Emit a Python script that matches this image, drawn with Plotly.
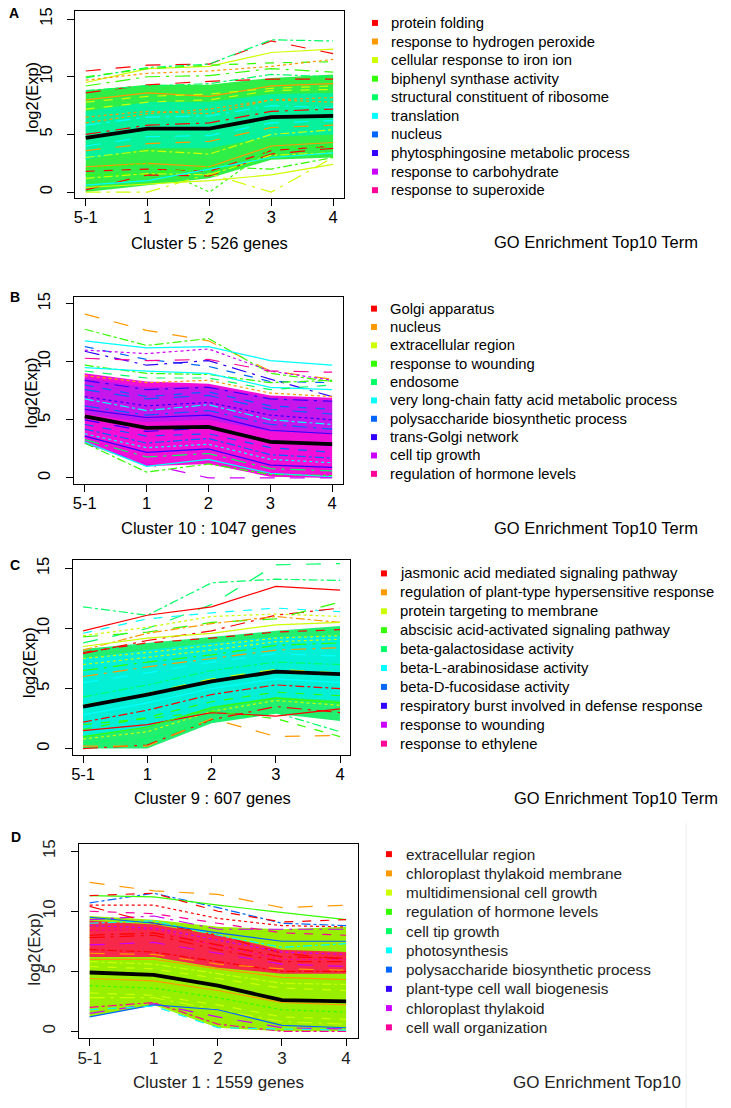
import plotly.graph_objects as go

# shared x categories and the GO term palette (R rainbow(10))
x_labels = ["5-1", "1", "2", "3", "4"]
y_ticks = [0, 5, 10, 15]
rainbow10 = ["#FF0000", "#FF9900", "#CCFF00", "#33FF00", "#00FF66",
             "#00FFFF", "#0066FF", "#3300FF", "#CC00FF", "#FF0099"]

# ---------------- panel A : cluster 5 ----------------
a_terms = ["protein folding", "response to hydrogen peroxide",
           "cellular response to iron ion", "biphenyl synthase activity",
           "structural constituent of ribosome", "translation", "nucleus",
           "phytosphingosine metabolic process", "response to carbohydrate",
           "response to superoxide"]
a_cluster = "Cluster 5 : 526 genes"
a_mean = [4.7, 5.5, 5.5, 6.5, 6.6]
a_band_lo = [0.0, 0.6, 1.2, 2.8, 3.0]
a_band_hi = [8.8, 9.3, 9.3, 9.9, 10.2]
a_core_lo = [2.8, 3.8, 3.8, 4.8, 5.0]
a_core_hi = [7.0, 7.8, 7.8, 8.5, 8.6]
a_genes = [
    [10.5, 11.0, 11.1, 13.1, 12.0], [9.9, 10.8, 11.1, 13.2, 13.1],
    [9.5, 10.7, 10.9, 12.1, 12.4], [10.0, 10.7, 11.0, 11.2, 11.3],
    [9.7, 10.3, 10.5, 10.9, 11.5], [9.2, 10.0, 10.1, 10.7, 10.4],
    [8.6, 9.3, 9.6, 9.8, 9.8], [8.8, 9.2, 9.4, 10.2, 10.0],
    [8.0, 8.6, 8.3, 9.2, 9.4], [7.2, 7.8, 8.0, 8.8, 8.9],
    [6.5, 7.0, 6.8, 8.0, 8.2], [5.8, 6.5, 6.6, 7.5, 7.3],
    [4.0, 4.8, 4.9, 6.0, 6.2], [3.0, 3.6, 3.3, 5.0, 5.4],
    [2.2, 2.5, 2.2, 4.0, 4.3], [1.8, 2.0, 1.8, 3.6, 4.0],
    [2.0, 2.5, 0.0, 3.8, 4.0], [0.0, 0.0, 1.6, 0.0, 3.0],
    [0.2, 1.5, 1.4, 3.3, 3.8], [1.5, 1.6, 2.2, 2.0, 3.0],
    [0.4, 0.7, 1.0, 1.5, 2.4], [7.8, 8.3, 8.5, 9.0, 9.2],
    [6.0, 6.8, 7.2, 8.0, 7.8], [5.0, 5.8, 6.0, 7.0, 7.2],
    [3.6, 4.2, 4.4, 5.6, 5.8], [1.2, 1.6, 1.5, 3.2, 3.4],
    [0.6, 1.0, 2.0, 3.0, 3.4],
]
a_gene_term = [0, 4, 2, 3, 1, 3, 0, 4, 1, 2, 1, 5, 5, 2, 1, 0, 3, 2, 0, 3, 2,
               2, 1, 0, 1, 2, 5]

# ---------------- panel B : cluster 10 ----------------
b_terms = ["Golgi apparatus", "nucleus", "extracellular region",
           "response to wounding", "endosome",
           "very long-chain fatty acid metabolic process",
           "polysaccharide biosynthetic process", "trans-Golgi network",
           "cell tip growth", "regulation of hormone levels"]
b_cluster = "Cluster 10 : 1047 genes"
b_mean = [5.3, 4.3, 4.4, 3.1, 2.9]
b_band_lo = [3.0, 1.0, 1.2, 0.1, 0.0]
b_band_hi = [9.0, 8.3, 8.1, 7.1, 6.9]
b_core_lo = [5.5, 4.8, 5.0, 4.0, 3.8]
b_core_hi = [8.6, 7.8, 7.9, 6.9, 6.7]
b_genes = [
    [14.1, 12.7, 11.8, 9.2, 8.5], [12.8, 11.4, 12.0, 9.0, 8.3],
    [11.8, 11.2, 11.3, 10.1, 9.7], [11.3, 10.2, 9.6, 8.3, 8.2],
    [11.0, 10.7, 11.1, 9.2, 8.4], [10.9, 9.7, 10.1, 8.5, 7.0],
    [10.3, 10.1, 10.2, 9.2, 9.1], [9.7, 9.0, 8.9, 8.2, 8.4],
    [9.5, 9.2, 9.0, 7.8, 7.6], [9.2, 8.6, 8.6, 7.6, 8.0],
    [8.8, 8.2, 8.4, 7.3, 7.0], [8.4, 7.6, 7.8, 6.8, 6.6],
    [7.6, 6.8, 7.1, 5.9, 5.5], [6.8, 5.8, 6.3, 5.0, 4.6],
    [5.9, 5.2, 5.4, 4.1, 3.8], [4.6, 3.6, 3.8, 2.6, 2.2],
    [3.8, 2.6, 2.9, 1.6, 1.3], [3.3, 1.8, 2.1, 0.8, 0.6],
    [3.0, 1.2, 0.0, 0.0, 0.0], [3.0, 0.5, 1.2, 0.3, 0.2],
    [3.1, 1.0, 1.6, 0.4, 0.1], [8.0, 7.0, 7.4, 6.2, 5.9],
    [7.0, 6.2, 6.5, 5.4, 5.0], [6.2, 5.4, 5.8, 4.6, 4.2],
    [5.0, 4.0, 4.3, 3.2, 2.8], [4.2, 3.0, 3.4, 2.0, 1.7],
    [3.6, 2.2, 2.5, 1.1, 0.9],
]
b_gene_term = [1, 3, 5, 6, 8, 7, 9, 3, 5, 4, 1, 7, 6, 5, 7, 6, 5, 4, 8, 3, 5,
               6, 7, 6, 7, 6, 7]

# ---------------- panel C : cluster 9 ----------------
c_terms = ["jasmonic acid mediated signaling pathway",
           "regulation of plant-type hypersensitive response",
           "protein targeting to membrane",
           "abscisic acid-activated signaling pathway",
           "beta-galactosidase activity", "beta-L-arabinosidase activity",
           "beta-D-fucosidase activity",
           "respiratory burst involved in defense response",
           "response to wounding", "response to ethylene"]
c_cluster = "Cluster 9 : 607 genes"
c_mean = [3.5, 4.5, 5.6, 6.4, 6.2]
c_band_lo = [0.0, 0.0, 2.1, 2.9, 2.3]
c_band_hi = [8.3, 8.8, 9.3, 9.8, 10.2]
c_core_lo = [1.0, 1.8, 3.5, 4.3, 4.0]
c_core_hi = [7.5, 8.2, 8.8, 9.3, 9.4]
c_genes = [
    [8.8, 10.0, 12.0, 15.3, 15.4], [11.8, 11.1, 13.8, 14.1, 14.0],
    [9.8, 11.1, 11.8, 13.5, 13.2], [9.6, 10.8, 11.3, 11.7, 11.4],
    [9.4, 10.1, 11.0, 11.2, 11.0], [7.9, 9.0, 9.8, 11.1, 11.7],
    [9.3, 9.7, 10.5, 10.8, 12.2], [8.2, 9.6, 10.4, 11.0, 10.5],
    [8.5, 9.2, 9.6, 10.3, 10.5], [8.0, 8.8, 9.2, 9.7, 9.9],
    [7.5, 8.0, 8.6, 9.2, 9.4], [6.5, 7.2, 7.8, 8.6, 8.8],
    [5.5, 6.3, 7.2, 7.9, 7.7], [4.3, 5.3, 6.5, 7.2, 7.0],
    [2.8, 3.8, 5.0, 5.8, 5.5], [1.6, 2.6, 3.9, 4.7, 4.4],
    [0.8, 1.4, 3.1, 4.0, 3.6], [0.0, 0.3, 2.4, 3.5, 3.0],
    [0.2, 0.2, 2.5, 1.0, 1.1], [0.5, 0.8, 2.3, 3.0, 1.4],
    [1.5, 2.0, 3.0, 2.7, 3.3], [2.0, 2.5, 3.1, 2.5, 1.0],
    [7.0, 7.6, 8.2, 8.9, 9.1], [6.0, 6.8, 7.5, 8.2, 8.4],
    [3.6, 4.6, 5.8, 6.6, 6.3], [2.2, 3.2, 4.5, 5.3, 5.0],
    [1.0, 1.8, 3.4, 4.2, 3.8],
]
c_gene_term = [4, 4, 0, 5, 2, 0, 3, 1, 2, 0, 2, 3, 5, 4, 5, 3, 2, 0, 1, 4, 0, 3,
               2, 1, 2, 0, 3]

# ---------------- panel D : cluster 1 ----------------
d_terms = ["extracellular region", "chloroplast thylakoid membrane",
           "multidimensional cell growth", "regulation of hormone levels",
           "cell tip growth", "photosynthesis",
           "polysaccharide biosynthetic process",
           "plant-type cell wall biogenesis", "chloroplast thylakoid",
           "cell wall organization"]
d_cluster = "Cluster 1 : 1559 genes"
d_mean = [4.9, 4.7, 3.8, 2.6, 2.5]
d_band_lo = [1.2, 2.2, 0.3, 0.0, 0.0]
d_band_hi = [9.6, 9.3, 8.7, 8.5, 8.7]
d_core_lo = [6.2, 6.2, 5.3, 4.8, 4.8]
d_core_hi = [9.2, 8.9, 8.0, 6.8, 6.6]
d_genes = [
    [12.4, 11.7, 11.4, 10.3, 10.5], [10.7, 11.5, 10.3, 9.0, 8.8],
    [11.3, 11.2, 10.5, 9.9, 9.3], [11.3, 11.5, 10.0, 9.1, 9.3],
    [10.5, 10.5, 9.4, 8.8, 8.7], [9.3, 9.6, 8.5, 8.5, 8.5],
    [10.4, 9.0, 8.0, 6.5, 6.0], [9.0, 9.2, 8.0, 7.0, 7.3],
    [9.5, 9.0, 8.2, 7.5, 7.5], [10.0, 9.8, 9.0, 8.2, 8.0],
    [8.4, 8.5, 7.1, 6.0, 6.0], [7.8, 8.0, 6.8, 5.8, 5.8],
    [7.2, 7.4, 6.5, 5.6, 5.4], [6.8, 6.6, 5.8, 5.0, 5.0],
    [6.0, 6.0, 5.2, 4.5, 4.3], [5.4, 5.2, 4.4, 3.6, 3.4],
    [3.8, 3.6, 2.8, 1.8, 1.6], [2.8, 2.8, 1.8, 0.8, 0.6],
    [1.5, 2.3, 1.2, 0.3, 0.2], [2.0, 2.4, 0.6, 0.0, 0.0],
    [1.2, 2.2, 1.8, 0.5, 0.3], [1.8, 2.1, 0.3, 0.2, 0.1],
    [8.8, 8.6, 7.6, 6.6, 6.4], [8.0, 8.2, 7.2, 6.2, 6.1],
    [6.5, 6.4, 5.6, 5.2, 5.1], [5.8, 5.6, 4.8, 4.0, 3.9],
    [4.4, 4.2, 3.4, 2.4, 2.2], [3.2, 3.0, 2.2, 1.2, 1.0],
]
d_gene_term = [1, 6, 3, 0, 0, 8, 0, 5, 6, 9, 9, 0, 8, 0, 1, 2, 3, 2, 8, 9, 6, 5,
               8, 0, 1, 2, 1, 2]

# ---------------- styles / geometry ----------------
W, H = 731, 1108
dash_cycle = ["longdash", "dashdot", "solid", "dash", "dot", "longdashdot"]

panels = [
    dict(letter="A", terms=a_terms, cluster=a_cluster, mean=a_mean,
         band=(a_band_lo, a_band_hi), core=(a_core_lo, a_core_hi),
         genes=a_genes, gene_term=a_gene_term,
         band_color="#30EE48", core_color="rgba(0,240,170,0.85)",
         frame=(73, 343, 6, 194), yrange=(-0.52, 15.7), xrange=(-0.177, 4.177),
         letter_pos=(12, 8), ytitle_pos=(30, 92), xtitle_pos=(208, 239),
         leg=(374, 388, 18, 18.67), go_pos=(700, 238), ylab_gap=15,
         go_text="GO Enrichment Top10 Term", fs=16.5, tfs=16.5, lfs=14.8,
         color="black"),
    dict(letter="B", terms=b_terms, cluster=b_cluster, mean=b_mean,
         band=(b_band_lo, b_band_hi), core=(b_core_lo, b_core_hi),
         genes=b_genes, gene_term=b_gene_term,
         band_color="#F210D8", core_color="rgba(185,25,240,0.8)",
         frame=(72, 342, 293, 481), yrange=(-0.51, 15.6), xrange=(-0.177, 4.177),
         letter_pos=(13, 293), ytitle_pos=(29, 389), xtitle_pos=(207, 525),
         leg=(373, 387, 305, 18.44), go_pos=(700, 525), ylab_gap=16,
         go_text="GO Enrichment Top10 Term", fs=16.5, tfs=16.5, lfs=14.8,
         color="black"),
    dict(letter="C", terms=c_terms, cluster=c_cluster, mean=c_mean,
         band=(c_band_lo, c_band_hi), core=(c_core_lo, c_core_hi),
         genes=c_genes, gene_term=c_gene_term,
         band_color="#22EE70", core_color="rgba(0,240,225,0.9)",
         frame=(71, 349, 558, 753), yrange=(-0.5, 15.66), xrange=(-0.16, 4.156),
         letter_pos=(13, 563), ytitle_pos=(27, 660), xtitle_pos=(211, 797),
         leg=(383, 397, 571, 19.0), go_pos=(720, 797), ylab_gap=16,
         go_text="GO Enrichment Top10 Term", fs=16.5, tfs=16.5, lfs=14.8,
         color="black"),
    dict(letter="D", terms=d_terms, cluster=d_cluster, mean=d_mean,
         band=(d_band_lo, d_band_hi), core=(d_core_lo, d_core_hi),
         genes=d_genes, gene_term=d_gene_term,
         band_color="#98F000", core_color="#F8284A",
         frame=(77, 357, 843, 1038), yrange=(-0.58, 15.58), xrange=(-0.17, 4.186),
         letter_pos=(14, 836), ytitle_pos=(33, 948), xtitle_pos=(217, 1082),
         leg=(388, 403, 853, 19.33), go_pos=(683, 1082), ylab_gap=16,
         go_text="GO Enrichment Top10", fs=17.0, tfs=17, lfs=15.3,
         color="#222222"),
]

FONT = "Liberation Sans, Arial, sans-serif"


def px(xp):
    return xp / W


def py(yp):
    return 1 - yp / H


fig = go.Figure()
layout = dict(width=W, height=H, autosize=False, showlegend=False,
              margin=dict(l=0, r=0, t=0, b=0),
              paper_bgcolor="white", plot_bgcolor="white",
              font=dict(family=FONT, color="black"))
annotations = []
shapes = []


def note(text, x, y, size, xanchor="center", angle=0, bold=False, color="black"):
    annotations.append(dict(text="<b>%s</b>" % text if bold else text,
                            x=px(x), y=py(y), xref="paper", yref="paper",
                            xanchor=xanchor, yanchor="middle", showarrow=False,
                            textangle=angle,
                            font=dict(size=size, family=FONT, color=color)))


for i, p in enumerate(panels):
    s = "" if i == 0 else str(i + 1)
    xa, ya = "x" + s, "y" + s
    yt = "y" + str(i + 5)          # overlay axis that carries the short y ticks
    left, right, top, bottom = p["frame"]
    tick_font = dict(size=p["tfs"], family=FONT, color=p["color"])
    axis_common = dict(showline=True, mirror=True, linecolor="black", linewidth=1.3,
                       ticks="outside", ticklen=7, tickwidth=1.3, tickcolor="black",
                       showgrid=False, zeroline=False, tickfont=tick_font)
    layout["xaxis" + s] = dict(axis_common, domain=[px(left), px(right)], anchor=ya,
                               type="category", categoryorder="array",
                               categoryarray=x_labels, range=list(p["xrange"]),
                               ticklabelstandoff=-3)
    # labels pushed away from the box by a long, invisible tick
    layout["yaxis" + s] = dict(axis_common, domain=[py(bottom), py(top)], anchor=xa,
                               range=list(p["yrange"]), tickvals=y_ticks,
                               tickangle=-90, ticklen=p["ylab_gap"],
                               tickcolor="rgba(0,0,0,0)")
    layout["yaxis" + str(i + 5)] = dict(overlaying=ya, anchor=xa,
                                        range=list(p["yrange"]), tickvals=y_ticks,
                                        ticks="outside", ticklen=7, tickwidth=1.3,
                                        tickcolor="black", showticklabels=False,
                                        showline=False, showgrid=False,
                                        zeroline=False)

    # dense bundle of profiles
    lo, hi = p["band"]
    fig.add_trace(go.Scatter(x=x_labels + x_labels[::-1], y=hi + lo[::-1],
                             fill="toself", fillcolor=p["band_color"], mode="lines",
                             line=dict(width=0), hoverinfo="skip", xaxis=xa, yaxis=ya))
    lo, hi = p["core"]
    fig.add_trace(go.Scatter(x=x_labels + x_labels[::-1], y=hi + lo[::-1],
                             fill="toself", fillcolor=p["core_color"], mode="lines",
                             line=dict(width=0), hoverinfo="skip", xaxis=xa, yaxis=ya))
    # individual genes
    for k, (vals, term) in enumerate(zip(p["genes"], p["gene_term"])):
        fig.add_trace(go.Scatter(x=x_labels, y=vals, mode="lines",
                                 line=dict(color=rainbow10[term], width=1.2,
                                           dash=dash_cycle[k % len(dash_cycle)]),
                                 hoverinfo="skip", xaxis=xa, yaxis=ya))
    # cluster mean (same range, drawn on the tick overlay axis)
    fig.add_trace(go.Scatter(x=x_labels, y=p["mean"], mode="lines",
                             line=dict(color="black", width=3.8),
                             hoverinfo="skip", xaxis=xa, yaxis=yt))

    # panel letter and axis titles
    note(p["letter"], *p["letter_pos"], 14, bold=True)
    note("log2(Exp)", *p["ytitle_pos"], p["fs"], angle=-90, color=p["color"])
    note(p["cluster"], *p["xtitle_pos"], p["fs"], color=p["color"])

    # GO term legend
    mx, txl, y0, step = p["leg"]
    for j, term in enumerate(p["terms"]):
        yy = y0 + j * step
        shapes.append(dict(type="rect", xref="paper", yref="paper",
                           x0=px(mx - 3), x1=px(mx + 3), y0=py(yy + 3), y1=py(yy - 3),
                           fillcolor=rainbow10[j], line=dict(width=0)))
        note(term, txl, yy, p["lfs"], xanchor="left", color=p["color"])
    gx, gy = p["go_pos"]
    note(p["go_text"], gx, gy, p["fs"], xanchor="right", color=p["color"])

# faint edge of the last sub-figure
shapes.append(dict(type="line", xref="paper", yref="paper", x0=px(686), x1=px(686),
                   y0=py(822), y1=0, line=dict(color="#ECECEC", width=1)))

layout["annotations"] = annotations
layout["shapes"] = shapes
fig.update_layout(**layout)

fig.write_html("out.html", config={"displayModeBar": False},
               post_script="document.body.style.margin='0';")
